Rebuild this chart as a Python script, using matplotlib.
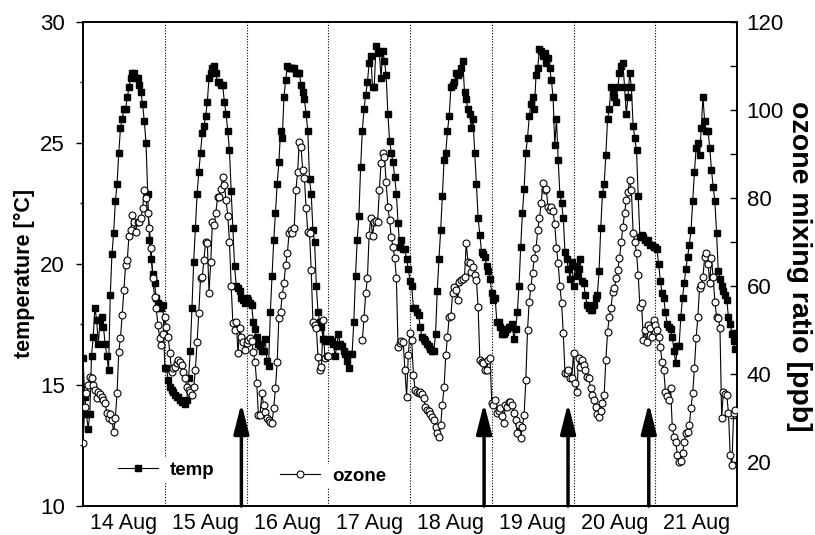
import numpy as np
import matplotlib
matplotlib.use("Agg")
import matplotlib.pyplot as plt

plt.rcParams['font.family'] = ['Liberation Sans', 'DejaVu Sans']

nan = np.nan

# half-hourly values, 48 per day, 14 Aug .. 21 Aug
temp_14 = [16.1, 14.5, 13.8, 13.2, 13.8, 16.2, 17.0, 18.2, 17.7, 16.7, 17.7, 17.8, 17.4, 16.7, 16.2, 15.6,
           18.7, 20.4, 21.3, 22.6, 23.3, 24.6, 25.6, 26.0, 26.4, 26.4, 26.9, 27.3, 27.7, 27.9, 27.9, 27.7,
           27.7, 27.4, 27.1, 26.6, 25.9, 25.0, 22.9, 21.0, 20.2, 19.6, 19.2, 18.6, 18.4, 18.2, 18.2, 18.3]
temp_15 = [15.7, 15.7, 15.2, 14.9, 14.8, 14.7, 14.6, 14.5, 14.5, 14.4, 14.3, 14.3, 14.2, 14.4, 15.3, 16.4,
           18.2, 20.1, 21.5, 22.9, 23.8, 24.6, 25.4, 25.7, 26.1, 26.7, 27.7, 27.9, 28.1, 28.2, 27.9, 27.5,
           27.5, 27.4, 27.4, 26.7, 26.2, 25.5, 24.7, 23.0, 21.5, 19.9, 19.1, 19.0, 18.9, 18.6, 18.5, 18.4]
temp_16 = [18.6, 18.5, 18.4, 18.3, 17.6, 17.3, 17.0, 16.7, 16.6, 16.4, 16.4, 16.9, 16.0, 15.8, 18.0, 19.5,
           21.0, 22.1, 23.3, 24.2, 25.5, 25.2, 26.9, 27.6, 28.2, 28.1, 28.1, 28.1, 28.1, 27.9, 27.9, 27.9,
           27.4, 27.1, 26.8, 26.2, 25.5, 23.5, 22.9, 21.4, 20.9, 19.1, 18.0, 17.6, 17.4, 16.9, 16.8, 16.9]
temp_17 = [16.8, 16.9, 16.8, 16.7, 16.2, 16.6, 17.1, 16.7, 16.6, 16.4, 16.3, 16.0, 15.7, 16.3, 16.3, 17.6,
           19.5, 21.0, 22.0, 24.0, 25.5, 26.4, 27.0, 27.5, 28.3, 28.6, 27.3, 27.3, 29.0, 28.8, 28.7, 27.7,
           28.8, 28.4, 27.8, 26.2, 25.1, 24.6, 24.2, 23.6, 22.9, 21.7, 20.7, 21.0, 20.6, 20.6, 20.2, 19.8]
temp_18 = [19.3, 19.1, 18.2, 18.2, 18.0, 17.9, 17.4, 17.0, 16.9, 16.8, 16.7, 16.6, 16.5, 16.4, 16.4, 17.1,
           18.9, 20.2, 21.4, 22.8, 24.3, 24.6, 25.5, 26.1, 27.3, 27.4, 27.5, 27.9, 27.8, 27.9, 28.1, 28.4,
           27.1, 26.8, 26.4, 26.2, 25.6, 26.0, 24.6, 23.3, 21.9, 21.2, 20.5, 20.4, 20.3, 19.9, 19.7, 19.4]
temp_19 = [18.8, 18.5, 18.6, 17.6, 17.6, 17.4, 17.1, 17.1, 17.2, 17.3, 17.4, 17.4, 17.5, 16.9, 17.3, 18.0,
           19.1, 20.7, 22.1, 23.1, 24.6, 25.2, 26.1, 26.6, 26.9, 26.4, 27.8, 28.1, 28.9, 28.8, 28.6, 28.7,
           28.3, 28.5, 28.1, 27.6, 26.9, 24.9, 26.0, 24.3, 22.9, 22.5, 21.9, 20.5, 20.2, 19.8, 19.4, 20.1]
temp_20 = [19.1, 19.9, 19.5, 19.8, 20.2, 19.3, 19.2, 18.7, 18.3, 18.2, 18.1, 18.1, 18.3, 18.6, 18.7, 19.7,
           21.5, 22.9, 23.3, 24.5, 26.0, 26.4, 27.3, 27.1, 26.9, 26.7, 27.3, 27.9, 28.2, 28.3, 27.3, 26.2,
           26.9, 27.9, 27.3, 25.7, 25.2, 24.7, 22.8, 21.1, 21.2, 21.1, 21.0, 20.9, 21.0, 20.8, 20.8, 20.7]
temp_21 = [20.7, 20.6, 20.0, 19.3, 18.8, 18.6, 18.0, 17.5, 17.4, 17.3, 17.0, 16.4, 15.9, 16.6, 16.6, 17.8,
           18.6, 19.2, 19.8, 20.3, 20.8, 21.4, 22.6, 23.8, 24.8, 25.0, 24.5, 25.6, 26.9, 25.9, 25.5, 25.5,
           24.8, 23.9, 23.2, 22.6, 21.3, 19.7, 19.4, 19.1, 18.9, 18.7, 18.5, 17.8, 17.5, 17.1, 16.8, 16.5]

oz_14 = [24.3, 32.5, 35.6, 37.5, 39.3, 39.0, 37.5, 36.4, 34.5, 36.0, 35.5, 34.8, 34.0, 33.4, 31.1, 30.0,
         31.0, 29.5, 26.8, 30.0, 35.7, 45.0, 48.2, 53.4, 59.1, 64.8, 65.9, 71.4, 72.7, 76.1, 74.5, 72.3,
         74.5, 74.5, 75.4, 77.7, 81.8, 80.0, 76.6, 73.2, 68.6, 61.8, 57.5, 55.0, 51.1, 48.2, 46.6, 49.0]
oz_15 = [53.0, 50.7, 48.4, 44.8, 40.5, 41.4, 41.6, 42.5, 43.2, 42.8, 42.0, 40.5, 39.1, 37.0, 36.4, 35.8,
         35.2, 37.0, 40.9, 47.3, 53.9, 61.8, 62.0, 66.0, 70.0, 69.8, 58.4, 65.5, 74.5, 73.9, 76.6, 80.2,
         80.2, 82.0, 84.8, 83.0, 79.5, 76.0, 70.0, 60.0, 51.6, 50.0, 51.8, 44.8, 50.5, 48.4, 47.3, 45.5]
oz_16 = [47.0, 47.7, 48.2, 47.5, 45.0, 42.7, 37.9, 30.7, 30.7, 35.6, 33.0, 31.4, 30.0, 29.5, 29.1, 28.8,
         32.3, 36.8, 42.7, 52.7, 54.1, 58.0, 60.7, 64.8, 67.5, 72.0, 72.7, 72.0, 73.2, 81.8, 85.9, 92.7,
         91.6, 86.4, 84.5, 77.7, 72.3, 72.0, 63.6, 51.8, 51.1, 50.5, 43.9, 40.9, 41.5, 52.3, 43.6, 44.0]
oz_17 = [44.0, nan, nan, nan, nan, nan, nan, nan, nan, nan, nan, nan, nan, nan, nan, nan,
         nan, nan, nan, nan, 47.7, 52.7, 58.4, 61.8, 71.6, 75.5, 71.4, 74.5, 74.8, 74.6, 81.8, 88.0,
         90.2, 89.3, 83.6, 78.0, 75.0, 71.1, 68.9, 66.4, 61.8, 46.1, 47.0, 47.5, 47.3, 41.0, 34.8, 44.3]
oz_18 = [49.3, 47.7, 39.8, 36.4, 36.0, 35.7, 36.0, 35.5, 34.5, 32.5, 31.8, 31.5, 31.0, 30.2, 29.5, 28.0,
         26.6, 25.7, 28.4, 33.0, 37.0, 44.3, 48.4, 53.0, 53.2, 58.4, 59.8, 59.1, 56.8, 60.9, 61.4, 61.6,
         62.0, 69.8, 65.5, 65.2, 63.2, 64.3, 62.5, 61.4, 55.2, 43.2, 42.7, 42.5, 40.9, 41.0, 43.2, 43.6]
oz_19 = [33.5, 33.0, 34.1, 31.1, 31.5, 32.3, 30.5, 28.9, 33.0, 32.5, 33.6, 33.6, 33.0, 31.1, 29.5, 26.6,
         28.4, 25.5, 28.0, 30.7, 38.6, 50.0, 56.4, 59.8, 63.0, 66.4, 68.6, 72.7, 75.5, 78.8, 83.4, 81.8,
         82.0, 78.0, 77.3, 78.0, 77.0, 74.0, 68.6, 65.2, 60.0, 56.1, 49.3, 40.2, 40.2, 40.9, 39.1, 39.1]
oz_20 = [44.8, 37.9, 35.9, 43.6, 41.6, 43.2, 42.0, 40.9, 39.3, 39.0, 36.8, 35.2, 34.1, 32.5, 31.0, 30.2,
         31.5, 33.4, 35.2, 43.2, 49.5, 53.0, 55.0, 58.6, 59.5, 61.8, 63.6, 66.4, 70.0, 73.4, 76.6, 79.5,
         81.4, 84.1, 81.8, 72.0, 70.0, 67.5, 62.5, 55.2, 56.1, 47.7, 50.0, 47.3, 51.1, 50.5, 48.4, 52.3]
oz_21 = [51.1, 50.0, 48.4, 46.1, 42.7, 40.9, 35.9, 35.0, 34.1, 36.8, 28.0, 25.7, 24.5, 21.6, 20.0, 20.2,
         22.0, 24.5, 26.6, 26.8, 28.4, 32.3, 35.7, 41.4, 48.2, 53.0, 59.5, 60.2, 62.0, 66.6, 67.5, 65.0,
         60.7, 66.4, 62.0, 56.4, 53.0, 52.8, 50.5, 30.0, 35.9, 35.5, 35.2, 31.1, 21.6, 19.3, 31.1, 31.8]

day_labels = ['14 Aug', '15 Aug', '16 Aug', '17 Aug', '18 Aug', '19 Aug', '20 Aug', '21 Aug']
# arrow times, days after 14 Aug 00:00
arrow_days = [1 + 22.5 / 24, 4 + 21.75 / 24, 5 + 22.4 / 24, 6 + 22.1 / 24]

temp = np.concatenate([temp_14, temp_15, temp_16, temp_17, temp_18, temp_19, temp_20, temp_21])
ozone = np.concatenate([oz_14, oz_15, oz_16, oz_17, oz_18, oz_19, oz_20, oz_21])
t = np.arange(len(temp)) / 48.0

fig = plt.figure(figsize=(8.15, 5.35), dpi=100)
ax = fig.add_axes([83 / 815, 1 - 506 / 535, 654 / 815, 484 / 535])
ax2 = ax.twinx()

for d in range(1, 8):
    ax.axvline(d, color='k', ls=(0, (1, 1.5)), lw=0.8, zorder=1)

l1, = ax.plot(t, temp, color='k', lw=0.8, marker='s', ms=4.3, mfc='k', mec='k', zorder=3)
l2, = ax2.plot(t, ozone, color='k', lw=0.8, marker='o', ms=5, mfc='white', mec='k', mew=0.8, zorder=3)

ax.set_xlim(0, 8)
ax.set_ylim(10, 30)
ax2.set_ylim(10, 120)

ax.set_xticks(np.arange(8) + 0.5)
ax.set_xticklabels(day_labels)
ax.tick_params(axis='x', length=0, labelsize=15.5, pad=5)

ax.set_yticks([10, 15, 20, 25, 30])
ax.set_yticks([12.5, 17.5, 22.5, 27.5], minor=True)
ax.tick_params(axis='y', which='major', direction='out', length=5, width=1, labelsize=16, pad=8)
ax.tick_params(axis='y', which='minor', direction='out', length=2.5, width=1)

ax2.set_yticks([20, 40, 60, 80, 100, 120])
ax2.set_yticks([30, 50, 70, 90, 110], minor=True)
ax2.tick_params(axis='y', which='both', direction='in', length=5, width=1, labelsize=16, pad=7)

for a in (ax, ax2):
    for s in a.spines.values():
        s.set_linewidth(1.2)

for xa in arrow_days:
    ax.annotate('', xy=(xa, 14.25), xytext=(xa, 10),
                arrowprops=dict(arrowstyle='-|>,head_length=1.3,head_width=0.33', mutation_scale=14,
                                lw=2.5, color='k', shrinkA=0, shrinkB=0),
                annotation_clip=False, zorder=4)

fig.text(24 / 815, 1 - 273 / 535, 'temperature [°C]', rotation=90, ha='center', va='center',
         fontsize=15.5, weight='bold')
fig.text(799 / 815, 1 - 266 / 535, 'ozone mixing ratio [ppb]', rotation=270, ha='center', va='center',
         fontsize=20.5, weight='bold')

leg_kw = dict(loc='center left', frameon=True, prop=dict(weight='bold', size=13.5), handlelength=2.1,
              handletextpad=0.65, borderpad=0.2, borderaxespad=0, fancybox=False)
leg1 = ax.legend([l1], ['temp'], bbox_to_anchor=(0.048, 0.074), **leg_kw)
leg2 = ax2.legend([l2], ['ozone'], bbox_to_anchor=(0.296, 0.062), **leg_kw)
for lg in (leg1, leg2):
    lg.get_frame().set_edgecolor('none')
    lg.get_frame().set_facecolor('white')
    lg.get_frame().set_alpha(1)

fig.savefig('out.png', dpi=100)
